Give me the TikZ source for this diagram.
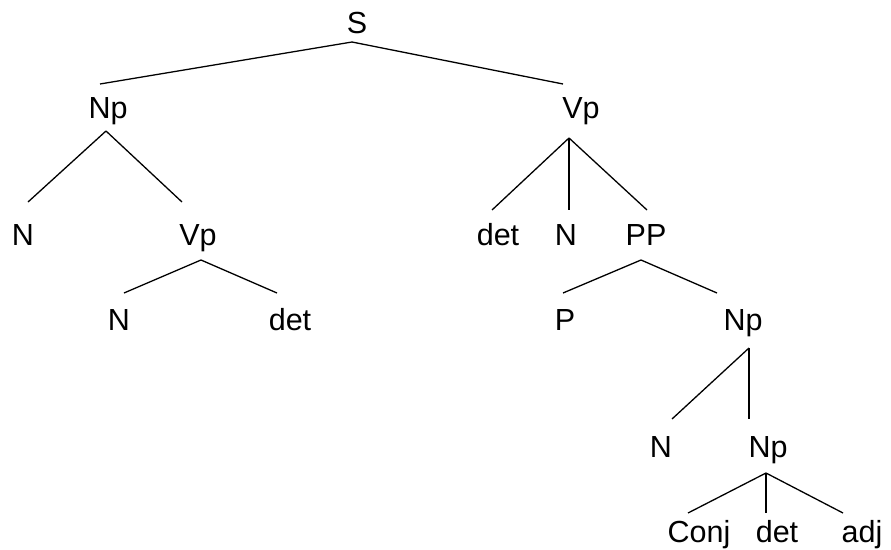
\documentclass[tikz,border=0pt]{standalone}
\usepackage{fontspec}
\setmainfont{Liberation Sans}
\begin{document}
\begin{tikzpicture}[x=1pt,y=1pt,
  lbl/.style={anchor=base,inner sep=0pt,font=\fontsize{30.5}{36}\selectfont},
  edge/.style={line width=1.3pt,black}]
\useasboundingbox (0,0) rectangle (891,-549);
\node[lbl] (S) at (357,-33) {S};
\node[lbl] (Np1) at (108,-118) {Np};
\node[lbl] (Vp1) at (581,-118) {Vp};
\node[lbl] (N1) at (23,-245) {N};
\node[lbl] (Vp2) at (198,-245) {Vp};
\node[lbl] (N2) at (119,-330) {N};
\node[lbl] (det1) at (290,-330) {det};
\node[lbl] (det2) at (498,-245) {det};
\node[lbl] (N3) at (566,-245) {N};
\node[lbl] (PP) at (646,-245) {PP};
\node[lbl] (P) at (565,-330) {P};
\node[lbl] (Np2) at (743,-330) {Np};
\node[lbl] (N4) at (661,-457) {N};
\node[lbl] (Np3) at (768,-457) {Np};
\node[lbl] (Conj) at (699,-542) {Conj};
\node[lbl] (det3) at (777,-542) {det};
\node[lbl] (adj) at (862,-542) {adj};
% edges
\draw[edge] ([shift={(-5pt,-9pt)}]S.base) -- ([shift={(-8pt,34pt)}]Np1.base);
\draw[edge] ([shift={(-5pt,-9pt)}]S.base) -- ([shift={(-18pt,34pt)}]Vp1.base);
\draw[edge] ([shift={(-2pt,-13pt)}]Np1.base) -- ([shift={(5pt,43pt)}]N1.base);
\draw[edge] ([shift={(-2pt,-13pt)}]Np1.base) -- ([shift={(-16pt,43pt)}]Vp2.base);
\draw[edge] ([shift={(3pt,-15pt)}]Vp2.base) -- ([shift={(5pt,37pt)}]N2.base);
\draw[edge] ([shift={(3pt,-15pt)}]Vp2.base) -- ([shift={(-13pt,37pt)}]det1.base);
\draw[edge] ([shift={(-12pt,-20pt)}]Vp1.base) -- ([shift={(-6pt,35pt)}]det2.base);
\draw[edge] ([shift={(-12pt,-20pt)}]Vp1.base) -- ([shift={(3pt,35pt)}]N3.base);
\draw[edge] ([shift={(-12pt,-20pt)}]Vp1.base) -- ([shift={(1pt,35pt)}]PP.base);
\draw[edge] ([shift={(-5pt,-15pt)}]PP.base) -- ([shift={(-2pt,37pt)}]P.base);
\draw[edge] ([shift={(-5pt,-15pt)}]PP.base) -- ([shift={(-26pt,37pt)}]Np2.base);
\draw[edge] ([shift={(6pt,-18pt)}]Np2.base) -- ([shift={(11pt,38pt)}]N4.base);
\draw[edge] ([shift={(6pt,-18pt)}]Np2.base) -- ([shift={(-19pt,38pt)}]Np3.base);
\draw[edge] ([shift={(-2pt,-16pt)}]Np3.base) -- ([shift={(-11pt,29pt)}]Conj.base);
\draw[edge] ([shift={(-2pt,-16pt)}]Np3.base) -- ([shift={(-11pt,29pt)}]det3.base);
\draw[edge] ([shift={(-2pt,-16pt)}]Np3.base) -- ([shift={(-19pt,29pt)}]adj.base);
\end{tikzpicture}
\end{document}
